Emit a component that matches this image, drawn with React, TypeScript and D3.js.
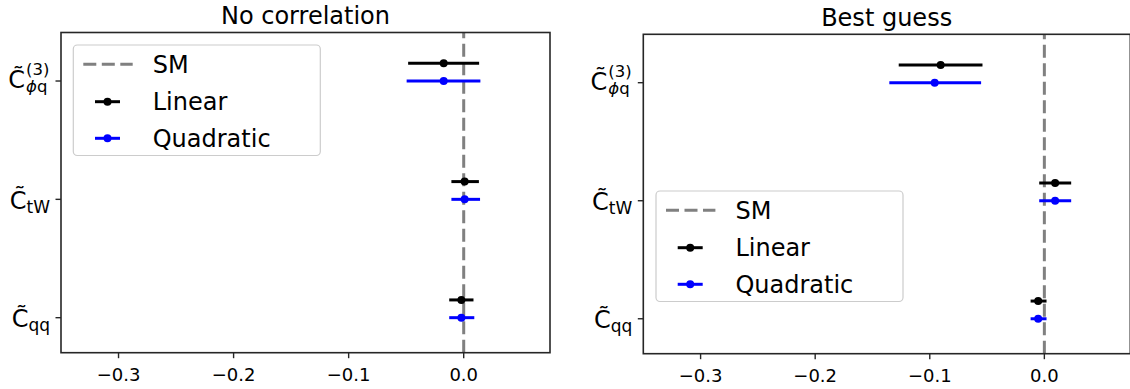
import React from "react";
import * as d3 from "d3";

// coefficients, bottom to top (y = 0, 1, 2)
const coefficients = ["qq", "tW", "phiq"];
const xTicks = [-0.3, -0.2, -0.1, 0.0];
const seriesNames = ["Linear", "Quadratic"];
const seriesColors = ["#000000", "#0000ff"];

// [low, central, high] for Cqq, CtW, Cphiq
const noCorrLinear = [
  [-0.0126, -0.002, 0.0085],
  [-0.0107, 0.0008, 0.0132],
  [-0.0483, -0.0174, 0.0134],
];
const noCorrQuadratic = [
  [-0.0126, -0.002, 0.0092],
  [-0.0107, 0.0008, 0.0142],
  [-0.0496, -0.0174, 0.0145],
];
const bestLinear = [
  [-0.012, -0.0054, 0.0019],
  [-0.0045, 0.0094, 0.0234],
  [-0.1271, -0.0905, -0.054],
];
const bestQuadratic = [
  [-0.012, -0.0054, 0.0019],
  [-0.0045, 0.0094, 0.0234],
  [-0.1353, -0.0957, -0.0552],
];

const panels = [
  {
    title: "No correlation",
    left: 61, right: 550, top: 32.5, bottom: 352.7,
    legendX: 73.3, legendY: 45,
    series: [noCorrLinear, noCorrQuadratic],
  },
  {
    title: "Best guess",
    left: 643.3, right: 1130.3, top: 34.3, bottom: 353.7,
    legendX: 656, legendY: 191,
    series: [bestLinear, bestQuadratic],
  },
];

const FONT = "DejaVu Sans";
const fmt = d3.format(".1f");

const YLabel = ({ name, x, y }: { name: string; x: number; y: number }) => {
  if (name === "phiq") {
    return (
      <g fontFamily={FONT} fill="#000">
        <text x={x - 25} y={y + 7} fontSize={24} textAnchor="end">C̃</text>
        <text x={x - 24} y={y - 6} fontSize={16.5}>(3)</text>
        <text x={x - 24} y={y + 11} fontSize={16.5}>
          <tspan fontStyle="italic">ϕ</tspan>q
        </text>
      </g>
    );
  }
  return (
    <text x={x} y={y + 9.5} fontSize={24} textAnchor="end" fontFamily={FONT} fill="#000">
      C̃<tspan fontSize={17} dy={4}>{name}</tspan>
    </text>
  );
};

const Panel = ({ p }: { p: (typeof panels)[number] }) => {
  const x = d3.scaleLinear().domain([-0.35, 0.075]).range([p.left, p.right]);
  const y = d3.scaleLinear().domain([-0.296, 2.41]).range([p.bottom, p.top]);
  const offsets = [0.15, 0];

  const lx = p.legendX;
  const ly = p.legendY;
  const rows = [19.3, 56.7, 93.3];

  return (
    <g>
      <text
        x={(p.left + Math.min(p.right, 1130)) / 2}
        y={p.top - 8.5}
        textAnchor="middle"
        fontFamily={FONT}
        fontSize={24}
        fill="#000"
      >
        {p.title}
      </text>

      {/* SM reference line */}
      <line
        x1={x(0)} x2={x(0)} y1={p.bottom} y2={p.top}
        stroke="#808080" strokeWidth={3} strokeDasharray="13,5.5"
      />

      {p.series.map((s, si) =>
        s.map((d, i) => (
          <g key={`${si}-${i}`}>
            <line
              x1={x(d[0])} x2={x(d[2])}
              y1={y(i + offsets[si])} y2={y(i + offsets[si])}
              stroke={seriesColors[si]} strokeWidth={3}
            />
            <circle cx={x(d[1])} cy={y(i + offsets[si])} r={4} fill={seriesColors[si]} />
          </g>
        ))
      )}

      {/* frame */}
      <rect
        x={p.left} y={p.top} width={p.right - p.left} height={p.bottom - p.top}
        fill="none" stroke="#262626" strokeWidth={1.6}
      />

      {xTicks.map((t) => (
        <g key={t}>
          <line x1={x(t)} x2={x(t)} y1={p.bottom} y2={p.bottom + 5.5} stroke="#262626" strokeWidth={1.4} />
          <text x={x(t)} y={p.bottom + 28} textAnchor="middle" fontFamily={FONT} fontSize={18} fill="#000">
            {fmt(t)}
          </text>
        </g>
      ))}

      {coefficients.map((c, i) => (
        <g key={c}>
          <line x1={p.left - 5.5} x2={p.left} y1={y(i)} y2={y(i)} stroke="#262626" strokeWidth={1.4} />
          <YLabel name={c} x={p.left - 11} y={y(i)} />
        </g>
      ))}

      {/* legend */}
      <rect
        x={lx} y={ly} width={247} height={110.5} rx={4}
        fill="#fff" fillOpacity={0.8} stroke="#cccccc" strokeWidth={1.2}
      />
      <line
        x1={lx + 10} x2={lx + 59.4} y1={ly + rows[0]} y2={ly + rows[0]}
        stroke="#808080" strokeWidth={3} strokeDasharray="13,5.5"
      />
      <text x={lx + 79.4} y={ly + rows[0] + 8.7} fontFamily={FONT} fontSize={24} fill="#000">SM</text>
      {seriesNames.map((n, si) => (
        <g key={n}>
          <line
            x1={lx + 21.7} x2={lx + 46.7} y1={ly + rows[si + 1]} y2={ly + rows[si + 1]}
            stroke={seriesColors[si]} strokeWidth={3}
          />
          <circle cx={lx + 34.2} cy={ly + rows[si + 1]} r={4} fill={seriesColors[si]} />
          <text x={lx + 79.4} y={ly + rows[si + 1] + 8.7} fontFamily={FONT} fontSize={24} fill="#000">
            {n}
          </text>
        </g>
      ))}
    </g>
  );
};

const App = () => (
  <svg
    width={1130}
    height={389}
    style={{ position: "absolute", left: 0, top: 0, background: "#fff" }}
  >
    {panels.map((p) => (
      <Panel key={p.title} p={p} />
    ))}
  </svg>
);

export default App;
